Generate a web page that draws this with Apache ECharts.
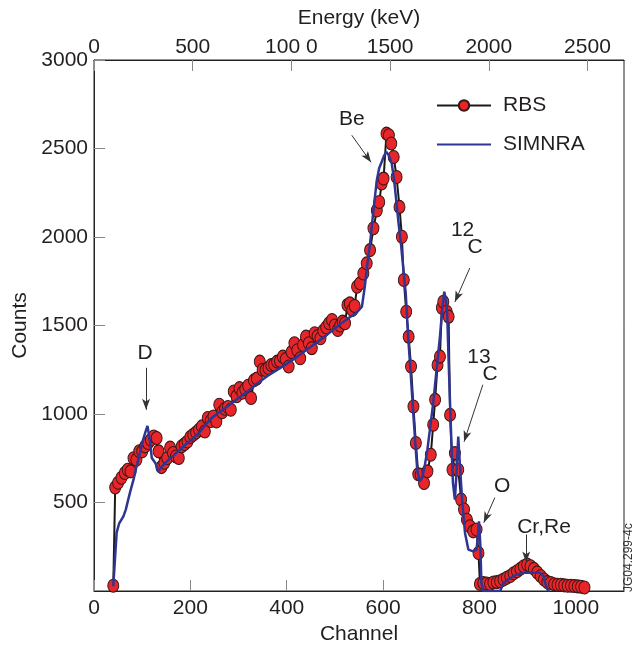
<!DOCTYPE html>
<html>
<head>
<meta charset="utf-8">
<script src="https://cdn.jsdelivr.net/npm/echarts@6/dist/echarts.min.js"></script>
<style>
html, body { margin: 0; padding: 0; background: #fff; }
#main { width: 637px; height: 651px; }
</style>
</head>
<body>
<div id="main"></div>
<script>
// RBS measured spectrum (channel, counts)
var rbsChannel = [40, 44, 50, 57, 64, 70, 76, 82, 88, 94, 100, 106, 112, 118, 124, 130, 134, 140, 146, 152,
  158, 164, 170, 176, 182, 188, 194, 200, 206, 212, 218, 224, 230, 236, 242, 248, 254, 260, 266, 272,
  278, 284, 290, 296, 302, 308, 314, 320, 326, 332, 338, 344, 350, 356, 362, 368, 374, 380, 386, 392,
  398, 404, 410, 416, 422, 428, 434, 440, 446, 452, 458, 464, 470, 476, 482, 488, 494, 500, 506, 511,
  516, 521, 526, 531, 536, 541, 546, 552, 559, 566, 573, 580, 587, 592, 597, 601, 607, 612, 617, 622,
  628, 634, 639, 643, 648, 653, 658, 663, 668, 673, 678, 685, 692, 699, 704, 708, 713, 718, 722, 725,
  732, 736, 739, 744, 749, 756, 762, 768, 774, 780, 787, 794, 798, 801, 808, 815, 822, 829, 836, 843,
  850, 857, 864, 871, 878, 885, 892, 899, 906, 913, 920, 927, 934, 941, 948, 955, 962, 969, 976, 983,
  990, 997, 1004, 1011, 1018];
var rbsCounts = [30, 585, 612, 640, 667, 685, 676, 750, 742, 790, 789, 817, 836, 855, 873, 864, 789, 700, 725, 751,
  810, 780, 760, 751, 817, 830, 845, 870, 883, 895, 911, 930, 901, 977, 960, 986, 958, 1052, 1010, 1030,
  1040, 1024, 1127, 1100, 1146, 1120, 1140, 1160, 1090, 1190, 1200, 1296, 1250, 1249, 1260, 1277, 1280, 1296, 1300, 1324,
  1310, 1268, 1350, 1400, 1360, 1315, 1390, 1437, 1400, 1372, 1456, 1440, 1428, 1470, 1490, 1513, 1531, 1500, 1475, 1500,
  1522, 1513, 1616, 1625, 1588, 1610, 1719, 1738, 1794, 1851, 1926, 2049, 2150, 2198, 2302, 2330, 2584, 2575, 2528, 2452,
  2339, 2170, 2001, 1757, 1578, 1437, 1268, 1042, 836, 660, 657, 610, 676, 770, 939, 1080, 1277, 1324, 1600, 1634,
  1578, 1550, 995, 685, 779, 685, 516, 460, 403, 366, 337, 347, 215, 40, 45, 42, 40, 48, 50, 55,
  65, 75, 85, 100, 112, 125, 140, 150, 140, 125, 105, 85, 65, 50, 45, 38, 35, 35, 32, 30,
  30, 28, 26, 24, 20];

// SIMNRA simulation (channel, counts)
var simChannel = [40, 47, 52, 61, 66, 71, 76, 82, 87, 92, 97, 102, 107, 111, 116, 120, 124, 128, 133, 140,
  151, 165, 178, 192, 206, 220, 241, 260, 280, 300, 320, 340, 360, 386, 420, 450, 480, 510, 530, 545,
  556, 562, 567, 573, 580, 587, 592, 597, 602, 607, 612, 618, 623, 628, 632, 637, 642, 647, 652, 657,
  662, 667, 671, 676, 681, 686, 692, 698, 704, 711, 718, 723, 727, 730, 733, 736, 739, 742, 745, 749,
  752, 756, 760, 764, 770, 777, 787, 794, 797, 799, 802, 804, 808, 843, 849, 856, 877, 891, 926, 933,
  937, 941, 945];
var simCounts = [27, 330, 380, 422, 460, 516, 570, 629, 690, 742, 800, 855, 900, 933, 850, 751, 742, 720, 676, 700,
  732, 765, 798, 832, 864, 900, 970, 1010, 1050, 1090, 1130, 1175, 1215, 1259, 1320, 1380, 1440, 1505, 1545, 1572,
  1606, 1719, 1840, 1964, 2152, 2321, 2390, 2424, 2460, 2481, 2460, 2415, 2320, 2189, 2080, 1964, 1820, 1682, 1437, 1240,
  1030, 830, 680, 619, 640, 700, 800, 930, 1061, 1250, 1437, 1600, 1691, 1650, 1569, 1300, 1061, 820, 610, 516,
  650, 873, 685, 516, 328, 234, 224, 234, 320, 394, 253, 46, 0, 0, 40, 60, 93, 103, 103, 84,
  40, 8, 0];

var yTicks = [0, 3000, 500];
var channelTicks = [0, 1100, 200];
var energyTicks = [0, 2685, 500];

// annotation labels (channel, counts of label centre)
var annoText = ['D', 'Be', '12', 'C', '13', 'C', 'O', 'Cr,Re'];
var annoChannel = [106, 535, 765, 791, 799, 822, 847, 934];
var annoCounts = [1345, 2665, 2040, 1940, 1320, 1225, 593, 360];
// arrows: from (channel, counts) to (channel, counts)
var arrowFrom = [[108, 1261], [535, 2575], [780, 1825], [807, 1165], [832, 528], [897, 319]];
var arrowTo = [[108, 1024], [575, 2422], [749, 1633], [768, 843], [809, 386], [897, 161]];

var FONT = 'Liberation Sans';
var TXT = '#231f20';
var FS = 21;

function zip(a, b) { return a.map(function (v, i) { return [v, b[i]]; }); }
function plain(v) { return String(v); }

var chart = echarts.init(document.getElementById('main'));
chart.setOption({
  animation: false,
  textStyle: { fontFamily: FONT },
  grid: { left: 94, right: 13, top: 60, bottom: 60, show: true, borderColor: '#222', borderWidth: 1 },
  legend: {
    orient: 'vertical', left: 431, top: 90, itemWidth: 54, itemHeight: 13, itemGap: 18,
    textStyle: { fontSize: FS, color: TXT, fontFamily: FONT, padding: [0, 0, 0, 7] },
    data: [{ name: 'RBS' }, { name: 'SIMNRA', itemStyle: { opacity: 0 } }]
  },
  xAxis: [{
    type: 'value', position: 'bottom',
    min: channelTicks[0], max: channelTicks[1], interval: channelTicks[2],
    name: 'Channel', nameLocation: 'middle', nameGap: 29,
    nameTextStyle: { fontSize: FS, color: TXT },
    axisLine: { show: true, lineStyle: { color: '#222' } },
    axisTick: { inside: true, length: 11, lineStyle: { color: '#888' } },
    axisLabel: { fontSize: FS, color: TXT, margin: 7, showMaxLabel: false, formatter: plain },
    splitLine: { show: false }
  }, {
    type: 'value', position: 'top',
    min: energyTicks[0], max: energyTicks[1], interval: energyTicks[2],
    name: 'Energy (keV)', nameLocation: 'middle', nameGap: 31,
    nameTextStyle: { fontSize: FS, color: TXT },
    axisLine: { show: true, lineStyle: { color: '#222' } },
    axisTick: { inside: true, length: 11, lineStyle: { color: '#888' } },
    axisLabel: {
      fontSize: FS, color: TXT, margin: 2, showMaxLabel: false,
      formatter: function (v) { return v === 1000 ? '100 0' : String(v); }
    },
    splitLine: { show: false }
  }],
  yAxis: {
    type: 'value', min: yTicks[0], max: yTicks[1], interval: yTicks[2],
    name: 'Counts', nameLocation: 'middle', nameGap: 59,
    nameTextStyle: { fontSize: FS, color: TXT },
    axisLine: { show: true, lineStyle: { color: '#222' } },
    axisTick: { inside: true, length: 11, lineStyle: { color: '#888' } },
    axisLabel: { fontSize: FS, color: TXT, margin: 6, showMinLabel: false, formatter: plain },
    splitLine: { show: false }
  },
  series: [{
    name: 'RBS', type: 'line', xAxisIndex: 0,
    data: zip(rbsChannel, rbsCounts),
    symbol: 'circle', symbolSize: [11, 13], showAllSymbol: true,
    lineStyle: { color: '#1a1a1a', width: 2 },
    itemStyle: { color: '#e8262a', borderColor: '#3a1616', borderWidth: 1 },
    z: 2
  }, {
    name: 'SIMNRA', type: 'line', xAxisIndex: 0,
    data: zip(simChannel, simCounts),
    showSymbol: false, symbol: 'none',
    lineStyle: { color: '#2e3592', width: 2.5 },
    itemStyle: { color: '#2e3592' },
    z: 3,
    markLine: {
      silent: true, symbol: ['none', 'arrow'], symbolSize: [6, 11],
      lineStyle: { color: '#333', width: 1, type: 'solid' },
      label: { show: false },
      data: arrowFrom.map(function (f, i) { return [{ coord: f }, { coord: arrowTo[i] }]; })
    }
  }]
});

var graphics = annoText.map(function (t, i) {
  var p = chart.convertToPixel({ xAxisIndex: 0, yAxisIndex: 0 }, [annoChannel[i], annoCounts[i]]);
  return {
    type: 'text', x: p[0], y: p[1], z: 10,
    style: { text: t, font: FS + 'px "' + FONT + '"', fill: TXT, align: 'center', verticalAlign: 'middle' }
  };
});
graphics.push({
  type: 'text', x: 629, y: 592, rotation: Math.PI / 2, z: 10,
  style: { text: 'JG04.299-4c', font: '12px "' + FONT + '"', fill: '#333', align: 'left', verticalAlign: 'middle' }
});
chart.setOption({ graphic: graphics });
</script>
</body>
</html>
